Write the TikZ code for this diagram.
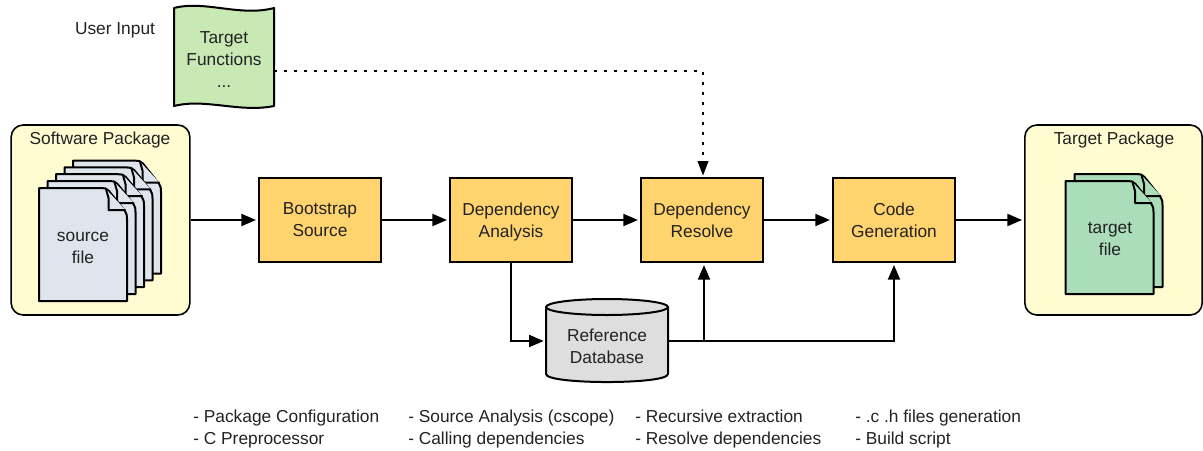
\documentclass[tikz,border=0pt]{standalone}
\usepackage{fontspec}
\setmainfont{Liberation Sans}
\usetikzlibrary{arrows.meta}
\definecolor{boxorange}{HTML}{FFD46E}
\definecolor{panelyellow}{HTML}{FFFCD2}
\definecolor{pageblue}{HTML}{DEE5ED}
\definecolor{pagegreen}{HTML}{ABDDBB}
\definecolor{tapegreen}{HTML}{C9E9B4}
\definecolor{dbgray}{HTML}{DEDEDE}
\definecolor{inkgray}{HTML}{222222}
\newcommand{\docpage}[3]{%
  \begin{scope}[shift={(#1,#2)}]
    \draw[pageline,fill=#3] (0,0) -- (62,0) to[out=0,in=125] (70,3) -- (86,23) to[out=-55,in=90] (88,31) -- (88,113) -- (0,113) -- cycle;
    \draw[pageline,fill=#3] (67,1) to[out=-80,in=100] (69.5,10) -- (69.5,22) -- (80,22) -- (86.5,22);
  \end{scope}}
\tikzset{
  x=0.75pt,y=-0.75pt,
  pageline/.style={draw=black,line width=1.5pt,line join=round},
  lbl/.style={font=\fontsize{13pt}{16.5pt}\selectfont,text=inkgray,align=center,inner sep=0pt,text depth=0.2pt},
  listlbl/.style={lbl,align=left,anchor=north west},
  stage/.style={lbl,draw=black,line width=1.5pt,fill=boxorange,minimum width=91.5pt,minimum height=63pt},
  panel/.style={draw=black,line width=1.2pt,fill=panelyellow,rounded corners=9pt,minimum width=134pt,minimum height=142.5pt,inner sep=0pt},
  flow/.style={draw=black,line width=1.5pt,shorten >=1.5pt,-{Triangle[length=11pt,width=9pt]}},
  dotflow/.style={draw=black,line width=1.5pt,dash pattern=on 2.2pt off 5.3pt,shorten >=1pt,-{Triangle[length=11pt,width=8pt]}},
}
\begin{document}
\begin{tikzpicture}
\useasboundingbox (0,0) rectangle (1203,450);

% panels
\node[panel] (swpkg) at (100.5,220) {};
\node[panel,minimum width=133pt] (tgpkg) at (1113.5,220) {};
\node[lbl] (swtitle) at (100,138.5) {Software Package};
\node[lbl] (tgtitle) at (1114,138.5) {Target Package};

% source pages
\docpage{73}{160.6}{pageblue}
\docpage{64.5}{167.4}{pageblue}
\docpage{56}{174.2}{pageblue}
\docpage{47.5}{181}{pageblue}
\docpage{39}{188}{pageblue}
\node[lbl] (srcfile) at (83,248) {source\\file};

% target pages
\docpage{1074.5}{174}{pagegreen}
\docpage{1065.5}{181}{pagegreen}
\node[lbl] (tgtfile) at (1110,239) {target\\file};

% user input
\node[lbl] (userinput) at (115,29) {User Input};
\draw[pageline,fill=tapegreen] (174,8) .. controls (205,0) and (240,17) .. (274,8) -- (274,106) .. controls (240,113) and (205,98) .. (174,106) -- cycle;
\node[lbl,minimum width=75pt,minimum height=73.5pt] (targetfn) at (224,60) {Target\\Functions\\...};

% stages
\node[stage] (bootstrap) at (320,220) {Bootstrap\\Source};
\node[stage] (depana) at (511,220) {Dependency\\Analysis};
\node[stage] (depres) at (702,220) {Dependency\\Resolve};
\node[stage] (codegen) at (894,220) {Code\\Generation};

% database
\draw[pageline,fill=dbgray] (546,307) -- (546,374) .. controls (546,384.7) and (668,384.7) .. (668,374) -- (668,307);
\draw[pageline,fill=dbgray] (607,307) ellipse[x radius=61,y radius=8];
\node[lbl,minimum width=91.5pt,minimum height=50pt] (refdb) at (607,346) {Reference\\Database};

% lists
\node[listlbl] (l1) at (193,410) {- Package Configuration\\- C Preprocessor};
\node[listlbl] (l2) at (408,410) {- Source Analysis (cscope)\\- Calling dependencies};
\node[listlbl] (l3) at (635,410) {- Recursive extraction\\- Resolve dependencies};
\node[listlbl] (l4) at (855,410) {- .c .h files generation\\- Build script};

% connectors
\coordinate (split) at (704,341);
\coordinate (dbin) at (refdb.west |- split);
\coordinate (dbout) at (refdb.east |- split);
\coordinate (dotturn) at (703,71);
\draw[flow] (swpkg.east |- bootstrap.west) -- (bootstrap.west);
\draw[flow] (bootstrap.east) -- (depana.west);
\draw[flow] (depana.east) -- (depres.west);
\draw[flow] (depres.east) -- (codegen.west);
\draw[flow] (codegen.east) -- (tgpkg.west |- codegen.east);
\draw[flow] (depana.south) |- (dbin);
\draw[flow] (dbout) -- (split) -- (split |- depres.south);
\draw[flow] (split) -| (codegen.south);
\draw[dotflow] (targetfn.east |- dotturn) -- (dotturn) -- (dotturn |- depres.north);
\end{tikzpicture}
\end{document}
